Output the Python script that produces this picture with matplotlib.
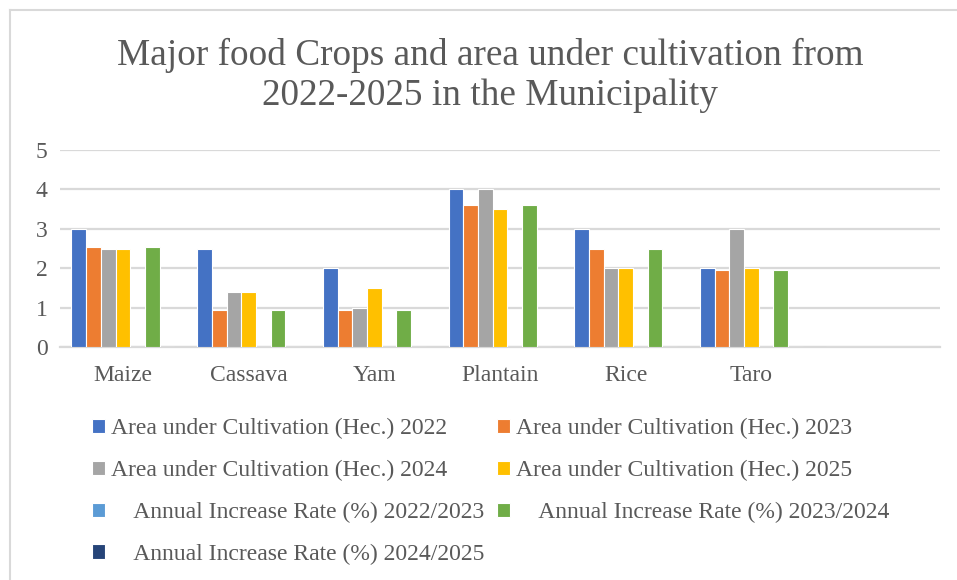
import matplotlib
matplotlib.use("Agg")
import matplotlib.pyplot as plt
from matplotlib.lines import Line2D
import numpy as np

plt.rcParams['font.family'] = ['Liberation Serif', 'DejaVu Serif']

crops = ['Maize', 'Cassava', 'Yam', 'Plantain', 'Rice', 'Taro', '']

area_2022 = [3, 2.5, 2, 4, 3, 2, 0]
area_2023 = [2.55, 0.93, 0.94, 3.6, 2.5, 1.95, 0]
area_2024 = [2.5, 1.4, 1.0, 4, 2, 3, 0]
area_2025 = [2.5, 1.4, 1.5, 3.5, 2, 2, 0]
rate_22_23 = [0, 0, 0, 0, 0, 0, 0]
rate_23_24 = [2.55, 0.93, 0.94, 3.6, 2.5, 1.95, 0]
rate_24_25 = [0, 0, 0, 0, 0, 0, 0]

series = [
    ('Area under Cultivation (Hec.) 2022', area_2022, '#4472C4'),
    ('Area under Cultivation (Hec.) 2023', area_2023, '#ED7D31'),
    ('Area under Cultivation (Hec.) 2024', area_2024, '#A5A5A5'),
    ('Area under Cultivation (Hec.) 2025', area_2025, '#FFC000'),
    ('    Annual Increase Rate (%) 2022/2023', rate_22_23, '#5B9BD5'),
    ('    Annual Increase Rate (%) 2023/2024', rate_23_24, '#70AD47'),
    ('    Annual Increase Rate (%) 2024/2025', rate_24_25, '#264478'),
]

txt = '#595959'
grid = '#D9D9D9'

fig = plt.figure(figsize=(9.57, 5.8), dpi=100)
ax = fig.add_axes([60/957, 1 - 347/580, 880/957, 197/580])

x = np.arange(len(crops))
w = 1 / (len(series) + 1.55)
handles = []
for k, (label, vals, color) in enumerate(series):
    bars = ax.bar(x + (k - 3) * w, vals, w, color=color, edgecolor='white',
                  linewidth=0.8, label=label, zorder=3)
    handles.append(bars)

ax.set_xlim(-0.5, len(crops) - 0.5)
ax.set_ylim(0, 5)
ax.set_yticks(range(6))
ax.set_xticks(x)
ax.set_xticklabels(crops)
ax.yaxis.grid(True, color=grid, linewidth=1.6, zorder=0)
ax.set_axisbelow(True)
for s in ['top', 'right', 'left']:
    ax.spines[s].set_visible(False)
ax.spines['bottom'].set_color(grid)
ax.spines['bottom'].set_linewidth(1.6)
ax.tick_params(axis='both', length=0, labelsize=17, labelcolor=txt)
ax.tick_params(axis='x', pad=13)
ax.tick_params(axis='y', pad=9)

fig.text(490/957, 1 - 38/580,
         'Major food Crops and area under cultivation from\n2022-2025 in the Municipality',
         ha='center', va='top', fontsize=26.8, color=txt, linespacing=1.2)

# legend rows read left to right, so reorder for column-major filling
order = [0, 2, 4, 6, 1, 3, 5]
leg = fig.legend([handles[i] for i in order], [series[i][0] for i in order],
                 ncol=2, loc='upper left', bbox_to_anchor=(92/957, 1 - 418/580),
                 frameon=False, fontsize=17, labelcolor=txt,
                 handlelength=0.55, handleheight=0.55, handletextpad=0.25,
                 labelspacing=0.88, columnspacing=0.55, borderpad=0,
                 borderaxespad=0)

# chart frame (left and top edges visible in the crop)
fig.add_artist(Line2D([10/957, 10/957], [0, 1 - 10/580], color=grid,
                      linewidth=1.5, transform=fig.transFigure))
fig.add_artist(Line2D([10/957, 1], [1 - 10/580, 1 - 10/580], color=grid,
                      linewidth=1.5, transform=fig.transFigure))

fig.savefig('out.png', dpi=100)
